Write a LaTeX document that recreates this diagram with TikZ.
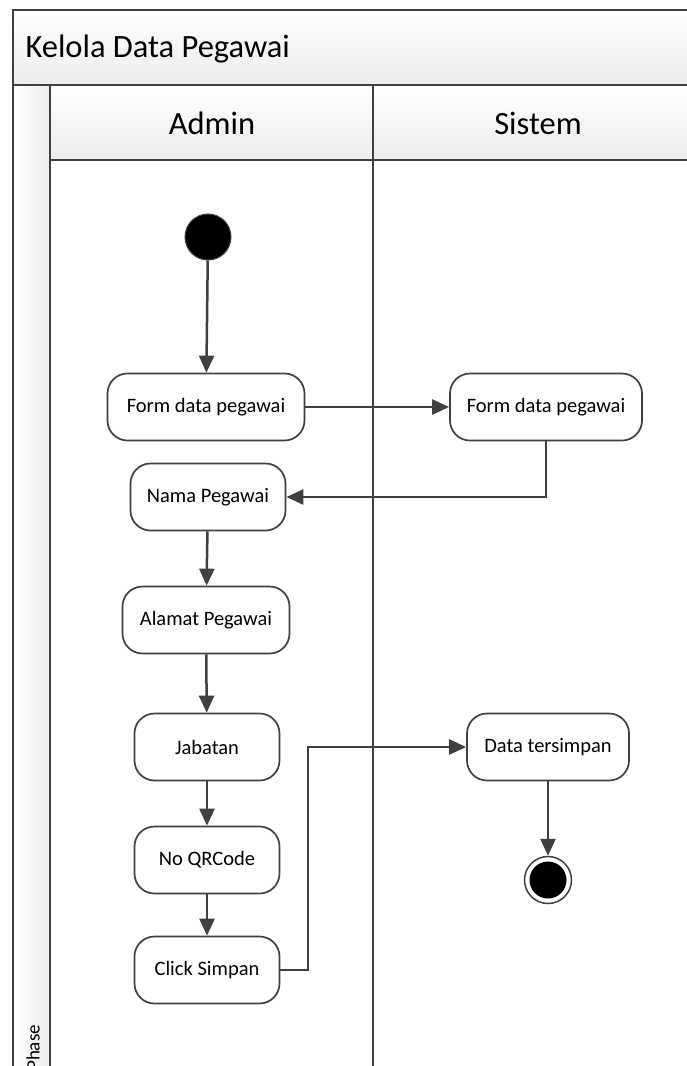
\documentclass[tikz,border=0pt]{standalone}
\usepackage{fontspec}
\setmainfont{Carlito}
\usetikzlibrary{arrows.meta,shapes.geometric}
\definecolor{ink}{HTML}{404040}
\definecolor{band}{HTML}{ECECEC}
\begin{document}
\begin{tikzpicture}[x=1pt,y=-1pt,
  lane/.style={draw=ink,line width=2pt},
  act/.style={draw=ink,line width=1.7pt,rounded corners=20pt,fill=white,
    minimum height=67pt,inner xsep=10pt,font=\fontsize{20.5}{23}\selectfont},
  flow/.style={draw=ink,line width=2.5pt,-{Triangle[length=17pt,width=15pt]}},
]
\useasboundingbox (0,0) rectangle (686,1066);
\fill[white] (0,0) rectangle (686,1066);
% shaded bands: pool title, phase strip, lane headers
\shade[top color=white,bottom color=band] (12.5,9.5) rectangle (690,85);
\shade[left color=white,right color=band] (12.5,85) rectangle (50,1070);
\shade[top color=white,bottom color=band] (50,85) rectangle (690,160);
% pool frame and lane dividers
\draw[lane] (690,9.5) -- (12.5,9.5) -- (12.5,1070);
\draw[lane] (12.5,85) -- (690,85);
\draw[lane] (50,85) -- (50,1070);
\draw[lane] (50,160) -- (690,160);
\draw[lane] (373,85) -- (373,1070);
% headings
\node[anchor=west,font=\fontsize{32.5}{36}\selectfont] (title) at (22,49) {Kelola Data Pegawai};
\node[rotate=90,anchor=west,inner xsep=0pt,font=\fontsize{19}{21}\selectfont] (phase) at (33,1071) {Phase};
\node[font=\fontsize{32.5}{36}\selectfont] (admin) at (212,123) {Admin};
\node[font=\fontsize{32.5}{36}\selectfont] (sistem) at (538,123) {Sistem};
% activities
\node[circle,fill=black,draw=ink,line width=1pt,minimum size=46pt,inner sep=0] (start) at (208,237) {};
\node[act,minimum width=197pt] (f1) at (206,407) {Form data pegawai};
\node[act,minimum width=192pt] (f2) at (546,407) {Form data pegawai};
\node[act,minimum width=155pt] (nama) at (208,497) {Nama Pegawai};
\node[act,minimum width=167pt] (alamat) at (206,620) {Alamat Pegawai};
\node[act,minimum width=145pt] (jab) at (207,747) {Jabatan};
\node[act,minimum width=145pt] (qr) at (207,860) {No QRCode};
\node[act,minimum width=145pt] (click) at (207,970) {Click Simpan};
\node[act,minimum width=162pt] (data) at (548,747) {Data tersimpan};
\node[circle,draw=ink,line width=1.5pt,fill=white,minimum size=47pt,inner sep=0] (end) at (548,880) {};
\node[circle,fill=black,minimum size=37pt,inner sep=0] (endin) at (end) {};
% flows
\draw[flow] (start) -- (f1);
\draw[flow] (f1) -- (f2);
\draw[flow] (f2.south) |- (nama.east);
\draw[flow] (nama) -- (alamat);
\draw[flow] (alamat) -- (jab);
\draw[flow] (jab) -- (qr);
\draw[flow] (qr) -- (click);
\coordinate (bend) at (308,970);
\draw[flow] (click.east) -- (bend) |- (data.west);
\draw[flow] (data) -- (end);
\end{tikzpicture}
\end{document}
